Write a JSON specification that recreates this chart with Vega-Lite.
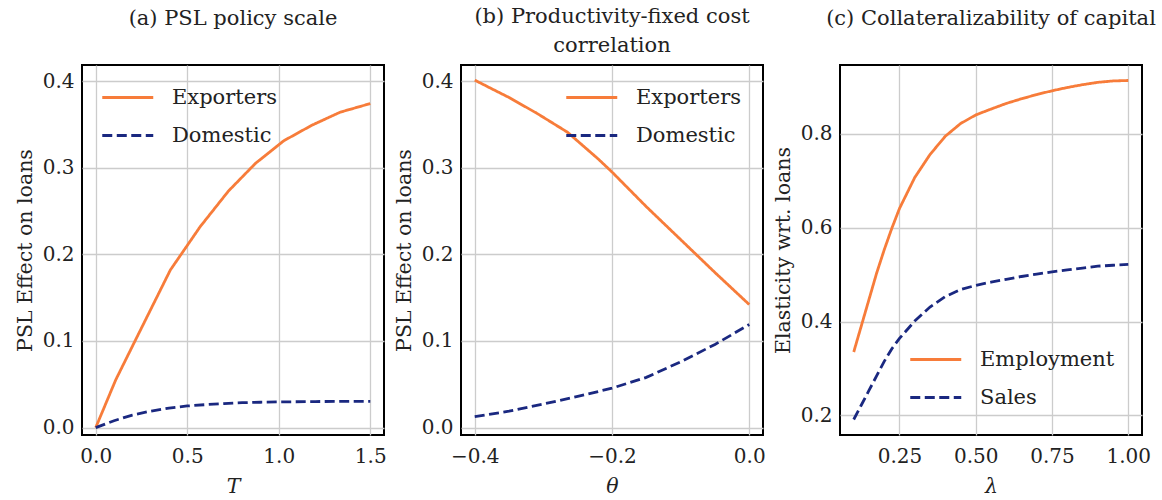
{
  "$schema": "https://vega.github.io/schema/vega-lite/v6.json",
  "background": "white",
  "padding": {"left": 14, "top": 5, "right": 0, "bottom": 0},
  "autosize": {"type": "pad"},
  "spacing": 77,
  "bounds": "flush",
  "config": {
    "font": "DejaVu Serif",
    "view": {"stroke": "black", "strokeWidth": 2},
    "axis": {
      "domain": false, "ticks": false,
      "labelFont": "DejaVu Serif", "labelFontSize": 20, "labelColor": "#222222",
      "titleFont": "DejaVu Serif", "titleFontSize": 20.5, "titleFontWeight": "normal", "titleColor": "#222222",
      "gridColor": "#cccccc", "gridWidth": 1.3, "gridOpacity": 1
    },
    "axisX": {"labelPadding": 11, "titlePadding": 10, "titleFontStyle": "italic"},
    "axisY": {"labelPadding": 8, "titlePadding": 7},
    "title": {"font": "DejaVu Serif", "fontSize": 21, "fontWeight": "normal", "color": "#222222", "anchor": "middle", "frame": "group", "lineHeight": 29},
    "legend": {
      "labelFont": "DejaVu Serif", "labelFontSize": 21, "labelColor": "#222222",
      "symbolType": "M-2.4,0H7.6", "symbolSize": 104, "symbolStrokeWidth": 2.8,
      "labelOffset": 47, "rowPadding": 16, "padding": 0, "labelLimit": 300
    }
  },
  "datasets": {
    "a": [
      {"x": 0, "y": 0, "series": "Exporters"},
      {"x": 0.109, "y": 0.055, "series": "Exporters"},
      {"x": 0.217, "y": 0.101, "series": "Exporters"},
      {"x": 0.408, "y": 0.182, "series": "Exporters"},
      {"x": 0.571, "y": 0.232, "series": "Exporters"},
      {"x": 0.725, "y": 0.273, "series": "Exporters"},
      {"x": 0.873, "y": 0.305, "series": "Exporters"},
      {"x": 1.027, "y": 0.331, "series": "Exporters"},
      {"x": 1.181, "y": 0.349, "series": "Exporters"},
      {"x": 1.335, "y": 0.364, "series": "Exporters"},
      {"x": 1.5, "y": 0.374, "series": "Exporters"},
      {"x": 0, "y": 0, "series": "Domestic"},
      {"x": 0.1, "y": 0.008, "series": "Domestic"},
      {"x": 0.2, "y": 0.0145, "series": "Domestic"},
      {"x": 0.3, "y": 0.019, "series": "Domestic"},
      {"x": 0.4, "y": 0.0225, "series": "Domestic"},
      {"x": 0.5, "y": 0.025, "series": "Domestic"},
      {"x": 0.6, "y": 0.0265, "series": "Domestic"},
      {"x": 0.7, "y": 0.0278, "series": "Domestic"},
      {"x": 0.8, "y": 0.0288, "series": "Domestic"},
      {"x": 0.9, "y": 0.0293, "series": "Domestic"},
      {"x": 1.0, "y": 0.0297, "series": "Domestic"},
      {"x": 1.2, "y": 0.0301, "series": "Domestic"},
      {"x": 1.35, "y": 0.0303, "series": "Domestic"},
      {"x": 1.5, "y": 0.0304, "series": "Domestic"}
    ],
    "b": [
      {"x": -0.4, "y": 0.401, "series": "Exporters"},
      {"x": -0.35, "y": 0.381, "series": "Exporters"},
      {"x": -0.31, "y": 0.363, "series": "Exporters"},
      {"x": -0.265, "y": 0.341, "series": "Exporters"},
      {"x": -0.22, "y": 0.31, "series": "Exporters"},
      {"x": -0.2, "y": 0.295, "series": "Exporters"},
      {"x": -0.15, "y": 0.255, "series": "Exporters"},
      {"x": -0.1, "y": 0.217, "series": "Exporters"},
      {"x": -0.05, "y": 0.179, "series": "Exporters"},
      {"x": 0, "y": 0.142, "series": "Exporters"},
      {"x": -0.4, "y": 0.0127, "series": "Domestic"},
      {"x": -0.35, "y": 0.019, "series": "Domestic"},
      {"x": -0.3, "y": 0.0272, "series": "Domestic"},
      {"x": -0.25, "y": 0.036, "series": "Domestic"},
      {"x": -0.2, "y": 0.0455, "series": "Domestic"},
      {"x": -0.15, "y": 0.058, "series": "Domestic"},
      {"x": -0.1, "y": 0.076, "series": "Domestic"},
      {"x": -0.05, "y": 0.096, "series": "Domestic"},
      {"x": 0, "y": 0.119, "series": "Domestic"}
    ],
    "c": [
      {"x": 0.1, "y": 0.335, "series": "Employment"},
      {"x": 0.125, "y": 0.391, "series": "Employment"},
      {"x": 0.15, "y": 0.447, "series": "Employment"},
      {"x": 0.175, "y": 0.503, "series": "Employment"},
      {"x": 0.2, "y": 0.553, "series": "Employment"},
      {"x": 0.225, "y": 0.599, "series": "Employment"},
      {"x": 0.25, "y": 0.641, "series": "Employment"},
      {"x": 0.3, "y": 0.707, "series": "Employment"},
      {"x": 0.35, "y": 0.756, "series": "Employment"},
      {"x": 0.4, "y": 0.795, "series": "Employment"},
      {"x": 0.45, "y": 0.822, "series": "Employment"},
      {"x": 0.5, "y": 0.8405, "series": "Employment"},
      {"x": 0.55, "y": 0.853, "series": "Employment"},
      {"x": 0.6, "y": 0.865, "series": "Employment"},
      {"x": 0.65, "y": 0.875, "series": "Employment"},
      {"x": 0.7, "y": 0.884, "series": "Employment"},
      {"x": 0.75, "y": 0.892, "series": "Employment"},
      {"x": 0.8, "y": 0.899, "series": "Employment"},
      {"x": 0.85, "y": 0.905, "series": "Employment"},
      {"x": 0.9, "y": 0.91, "series": "Employment"},
      {"x": 0.95, "y": 0.913, "series": "Employment"},
      {"x": 1.0, "y": 0.914, "series": "Employment"},
      {"x": 0.1, "y": 0.191, "series": "Sales"},
      {"x": 0.125, "y": 0.222, "series": "Sales"},
      {"x": 0.15, "y": 0.253, "series": "Sales"},
      {"x": 0.175, "y": 0.284, "series": "Sales"},
      {"x": 0.2, "y": 0.315, "series": "Sales"},
      {"x": 0.225, "y": 0.342, "series": "Sales"},
      {"x": 0.25, "y": 0.364, "series": "Sales"},
      {"x": 0.3, "y": 0.401, "series": "Sales"},
      {"x": 0.35, "y": 0.431, "series": "Sales"},
      {"x": 0.4, "y": 0.453, "series": "Sales"},
      {"x": 0.45, "y": 0.468, "series": "Sales"},
      {"x": 0.5, "y": 0.477, "series": "Sales"},
      {"x": 0.55, "y": 0.484, "series": "Sales"},
      {"x": 0.6, "y": 0.49, "series": "Sales"},
      {"x": 0.65, "y": 0.496, "series": "Sales"},
      {"x": 0.7, "y": 0.501, "series": "Sales"},
      {"x": 0.75, "y": 0.506, "series": "Sales"},
      {"x": 0.8, "y": 0.51, "series": "Sales"},
      {"x": 0.85, "y": 0.514, "series": "Sales"},
      {"x": 0.9, "y": 0.518, "series": "Sales"},
      {"x": 0.95, "y": 0.52, "series": "Sales"},
      {"x": 1.0, "y": 0.522, "series": "Sales"}
    ]
  },
  "hconcat": [
    {
      "width": 302, "height": 370,
      "title": {"text": "(a) PSL policy scale", "offset": 36},
      "data": {"name": "a"},
      "mark": {"type": "line", "strokeWidth": 2.8, "clip": true},
      "encoding": {
        "x": {"field": "x", "type": "quantitative", "scale": {"domain": [-0.075, 1.575], "nice": false, "zero": false},
              "axis": {"values": [0, 0.5, 1, 1.5], "format": ".1f", "title": "T"}},
        "y": {"field": "y", "type": "quantitative", "scale": {"domain": [-0.0085, 0.4185], "nice": false, "zero": false},
              "axis": {"values": [0, 0.1, 0.2, 0.3, 0.4], "format": ".1f", "title": "PSL Effect on loans"}},
        "color": {"field": "series", "type": "nominal", "scale": {"domain": ["Exporters", "Domestic"], "range": ["#f77c3a", "#1a2880"]},
                  "legend": {"title": null, "orient": "top-left", "offset": 22}},
        "strokeDash": {"field": "series", "type": "nominal", "scale": {"domain": ["Exporters", "Domestic"], "range": [[1, 0], [10, 4.5]]},
                  "legend": {"title": null, "orient": "top-left", "offset": 22}}
      }
    },
    {
      "width": 302, "height": 370,
      "title": {"text": ["(b) Productivity-fixed cost", "correlation"], "offset": 9},
      "data": {"name": "b"},
      "mark": {"type": "line", "strokeWidth": 2.8, "clip": true},
      "encoding": {
        "x": {"field": "x", "type": "quantitative", "scale": {"domain": [-0.42, 0.02], "nice": false, "zero": false},
              "axis": {"values": [-0.4, -0.2, 0], "format": ".1f", "title": "θ"}},
        "y": {"field": "y", "type": "quantitative", "scale": {"domain": [-0.0085, 0.4185], "nice": false, "zero": false},
              "axis": {"values": [0, 0.1, 0.2, 0.3, 0.4], "format": ".1f", "title": "PSL Effect on loans"}},
        "color": {"field": "series", "type": "nominal", "scale": {"domain": ["Exporters", "Domestic"], "range": ["#f77c3a", "#1a2880"]},
                  "legend": {"title": null, "orient": "top-right", "offset": 22}},
        "strokeDash": {"field": "series", "type": "nominal", "scale": {"domain": ["Exporters", "Domestic"], "range": [[1, 0], [10, 4.5]]},
                  "legend": {"title": null, "orient": "top-right", "offset": 22}}
      }
    },
    {
      "width": 302, "height": 370,
      "title": {"text": "(c) Collateralizability of capital", "offset": 36},
      "data": {"name": "c"},
      "mark": {"type": "line", "strokeWidth": 2.8, "clip": true},
      "encoding": {
        "x": {"field": "x", "type": "quantitative", "scale": {"domain": [0.055, 1.045], "nice": false, "zero": false},
              "axis": {"values": [0.25, 0.5, 0.75, 1.0], "format": ".2f", "title": "λ"}},
        "y": {"field": "y", "type": "quantitative", "scale": {"domain": [0.158, 0.947], "nice": false, "zero": false},
              "axis": {"values": [0.2, 0.4, 0.6, 0.8], "format": ".1f", "title": "Elasticity wrt. loans"}},
        "color": {"field": "series", "type": "nominal", "scale": {"domain": ["Employment", "Sales"], "range": ["#f77c3a", "#1a2880"]},
                  "legend": {"title": null, "orient": "bottom-right", "offset": 27}},
        "strokeDash": {"field": "series", "type": "nominal", "scale": {"domain": ["Employment", "Sales"], "range": [[1, 0], [10, 4.5]]},
                  "legend": {"title": null, "orient": "bottom-right", "offset": 27}}
      }
    }
  ],
  "resolve": {"scale": {"color": "independent", "strokeDash": "independent", "x": "independent", "y": "independent"}, "legend": {"color": "independent", "strokeDash": "independent"}}
}
